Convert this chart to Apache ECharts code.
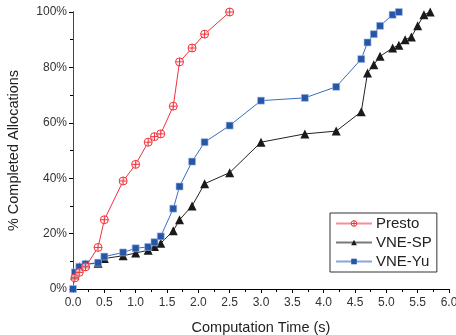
<!DOCTYPE html>
<html>
<head>
<meta charset="utf-8">
<script src="https://cdn.jsdelivr.net/npm/echarts@6/dist/echarts.min.js"></script>
<style>
  html, body { margin: 0; padding: 0; background: #fff; }
  #chart { width: 456px; height: 335px; }
</style>
</head>
<body>
<div id="chart"></div>
<script>
// values: [time (s), completed %]
const prestoTime = [0.03, 0.1, 0.2, 0.4, 0.5, 0.8, 1.0, 1.2, 1.3, 1.4, 1.6, 1.7, 1.9, 2.1, 2.5];
const prestoPct = [4, 6, 8, 15, 25, 39, 45, 53, 55, 56, 66, 82, 87, 92, 100];

const spTime = [0.03, 0.1, 0.2, 0.4, 0.5, 0.8, 1.0, 1.2, 1.3, 1.4, 1.6, 1.7, 1.9, 2.1, 2.5, 3.0, 3.7, 4.2, 4.6, 4.7, 4.8, 4.9, 5.1, 5.2, 5.3, 5.4, 5.5, 5.6, 5.7];
const spPct = [5, 8, 9, 9.3, 11, 12, 13, 14, 15.3, 16.5, 21, 25, 30, 38, 42, 53, 56, 57, 64, 78, 81, 84, 87, 88, 90, 91, 95, 99, 100];

const yuTime = [0.0, 0.03, 0.1, 0.2, 0.4, 0.5, 0.8, 1.0, 1.2, 1.3, 1.4, 1.6, 1.7, 1.9, 2.1, 2.5, 3.0, 3.7, 4.2, 4.6, 4.7, 4.8, 4.9, 5.1, 5.2];
const yuPct = [0, 6, 8, 9, 9.5, 11.7, 13.2, 14.7, 15.2, 16.9, 19, 29, 37, 46, 53, 59, 68, 69, 73, 83, 89, 92, 95, 99, 100];

const zip = (xs, ys) => xs.map((x, i) => [x, ys[i]]);

const circlePlus = 'path://M0,-5A5,5,0,1,1,0,5A5,5,0,1,1,0,-5ZM-5,0L5,0M0,-5L0,5';
const font = 'Liberation Sans, Arial, sans-serif';

const chart = echarts.init(document.getElementById('chart'));

const tickStyle = { color: '#000', width: 1 };

chart.setOption({
  animation: false,
  textStyle: { fontFamily: font },
  grid: { left: 73, right: 7, top: 12, bottom: 46, outerBoundsMode: 'none', containLabel: false },
  legend: {
    orient: 'vertical',
    left: 330,
    top: 213,
    padding: [3, 5, 3, 5],
    itemWidth: 36,
    itemHeight: 7,
    itemGap: 4,
    borderColor: '#333',
    borderWidth: 1,
    textStyle: { fontSize: 15, color: '#222', fontFamily: font, padding: [0, 0, 0, -1] },
    data: [
      {
        name: 'Presto',
        itemStyle: { color: '#fff', borderColor: '#f0323c', borderWidth: 1 },
        lineStyle: { color: '#f49098' },
      },
      { name: 'VNE-SP', lineStyle: { color: '#7a7a7a' } },
      { name: 'VNE-Yu', itemStyle: { color: '#2556a8', borderWidth: 0 }, lineStyle: { color: '#86a6dc' } },
    ],
  },
  xAxis: [
    {
      type: 'value', min: 0, max: 6, interval: 0.5,
      name: 'Computation Time (s)', nameLocation: 'middle', nameGap: 31,
      nameTextStyle: { fontSize: 14.5, color: '#222' },
      axisLine: { lineStyle: tickStyle },
      axisTick: { length: 4, lineStyle: tickStyle },
      minorTick: { show: true, splitNumber: 2, length: 3, lineStyle: tickStyle },
      axisLabel: { fontSize: 12, color: '#333', margin: 8, formatter: (v) => v.toFixed(1) },
      splitLine: { show: false },
    },
    {
      type: 'value', position: 'top', min: 0, max: 6, interval: 0.5,
      axisLine: { show: true, lineStyle: tickStyle },
      axisTick: { inside: true, length: 4, lineStyle: tickStyle },
      minorTick: { show: true, splitNumber: 2, length: 3, lineStyle: tickStyle },
      axisLabel: { show: false },
      splitLine: { show: false },
    },
  ],
  yAxis: [
    {
      type: 'value', min: 0, max: 100, interval: 20,
      name: '% Completed Allocations', nameLocation: 'middle', nameGap: 52,
      nameTextStyle: { fontSize: 14.5, color: '#222' },
      axisLine: { show: true, lineStyle: tickStyle },
      axisTick: { show: true, length: 4, lineStyle: tickStyle },
      minorTick: { show: true, splitNumber: 2, length: 2, lineStyle: tickStyle },
      axisLabel: { fontSize: 12, color: '#333', margin: 6, formatter: '{value}%' },
      splitLine: { show: false },
    },
    {
      type: 'value', position: 'right', min: 0, max: 100, interval: 20,
      axisLine: { show: true, lineStyle: { color: '#444', width: 1 } },
      axisTick: { show: true, inside: true, length: 4, lineStyle: tickStyle },
      minorTick: { show: true, splitNumber: 2, length: 3, lineStyle: tickStyle },
      axisLabel: { show: false },
      splitLine: { show: false },
    },
  ],
  series: [
    {
      name: 'Presto', type: 'line', data: zip(prestoTime, prestoPct),
      symbol: circlePlus, symbolSize: 8,
      lineStyle: { color: '#f0323c', width: 1 },
      itemStyle: { color: 'rgba(255,255,255,0.6)', borderColor: '#f0323c', borderWidth: 1 },
      z: 3,
    },
    {
      name: 'VNE-SP', type: 'line', data: zip(spTime, spPct),
      symbol: 'triangle', symbolSize: 9,
      lineStyle: { color: '#222', width: 1 },
      itemStyle: { color: '#1a1a1a' },
      z: 2,
    },
    {
      name: 'VNE-Yu', type: 'line', data: zip(yuTime, yuPct),
      symbol: 'rect', symbolSize: 7,
      lineStyle: { color: '#3a6cc0', width: 1 },
      itemStyle: { color: '#2556a8', borderColor: '#a9bfe4', borderWidth: 0.6 },
      z: 2,
    },
  ],
});
</script>
</body>
</html>
